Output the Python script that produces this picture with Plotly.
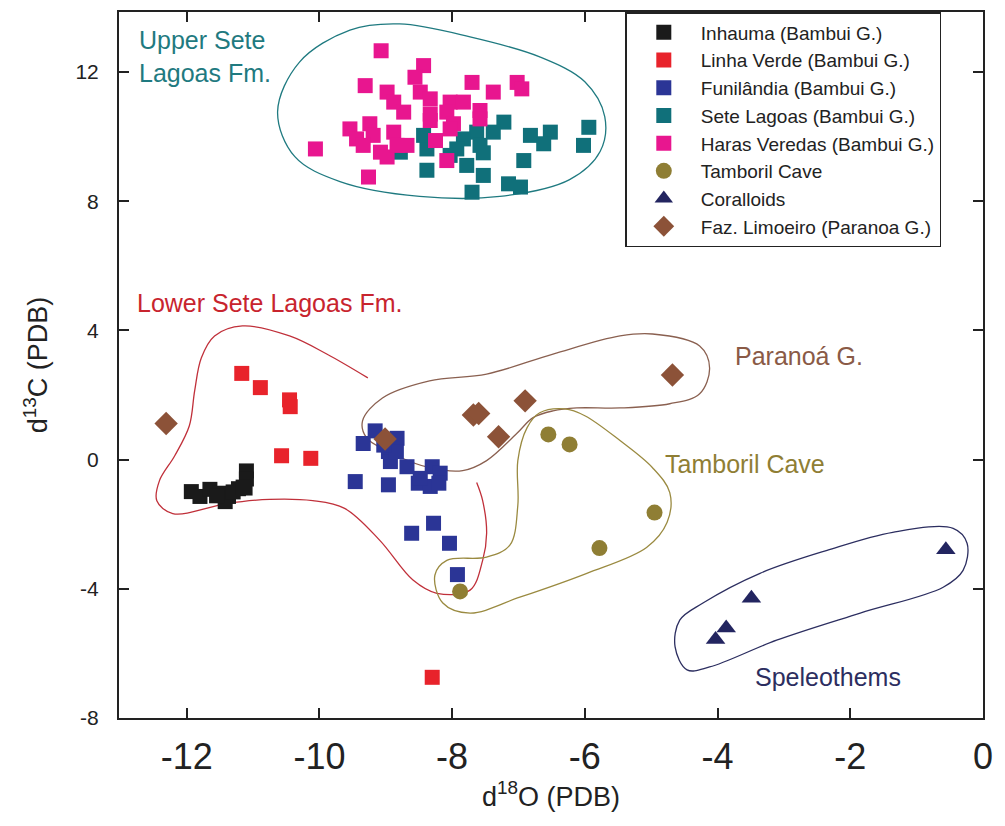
import plotly.graph_objects as go

# ---------------- data (d18O, d13C) ----------------
inhauma_x = [-11.93, -11.8, -11.65, -11.5, -11.37, -11.42, -11.22, -11.12, -11.1, -11.1, -11.55, -11.3, -11.15]
inhauma_y = [-0.99, -1.14, -0.92, -1.04, -1.14, -1.3, -0.9, -0.88, -0.35, -0.6, -1.12, -1.0, -0.85]

linha_x = [-11.17, -10.89, -10.45, -10.44, -10.57, -10.13, -8.3]
linha_y = [2.67, 2.23, 1.85, 1.64, 0.12, 0.04, -6.74]

funil_x = [-9.16, -9.34, -8.83, -8.96, -8.93, -8.68, -8.3, -8.18, -8.51, -8.33, -8.2, -9.46, -8.96,
           -8.61, -8.28, -8.04, -7.92, -8.48, -8.84, -9.03]
funil_y = [0.89, 0.5, 0.66, 0.25, -0.06, -0.22, -0.22, -0.42, -0.73, -0.83, -0.73, -0.68, -0.78,
           -2.28, -1.97, -2.59, -3.56, -0.58, 0.25, 0.45]

sete_x = [-7.22, -7.38, -7.63, -7.83, -7.58, -7.93, -8.38, -8.43, -8.38, -7.78, -7.53, -7.7,
          -6.82, -6.52, -6.62, -6.92, -7.15, -6.97, -5.94, -6.02, -8.03, -8.78, -7.53]
sete_y = [10.45, 10.14, 10.14, 9.93, 9.73, 9.62, 9.62, 10.04, 8.96, 9.11, 8.8, 8.28,
          10.04, 10.14, 9.78, 9.26, 8.54, 8.44, 10.29, 9.73, 9.42, 9.52, 9.5]

haras_x = [-9.07, -9.31, -8.43, -8.56, -8.98, -7.70, -7.38, -7.02, -6.95, -8.88, -8.48, -8.33,
           -8.03, -7.83, -8.73, -8.33, -8.08, -7.58, -7.58, -7.98, -9.54, -9.24, -9.44, -9.19,
           -9.34, -9.08, -8.98, -8.88, -8.83, -8.68, -10.06, -9.26, -8.25, -8.08, -8.03, -8.33]
haras_y = [12.66, 11.58, 12.2, 11.84, 11.38, 11.68, 11.38, 11.68, 11.48, 11.07, 11.38, 11.17,
           11.07, 11.07, 10.76, 10.7, 10.76, 10.81, 10.55, 10.4, 10.24, 10.4, 9.93, 10.04,
           9.73, 9.52, 9.37, 10.14, 9.73, 9.73, 9.62, 8.75, 9.88, 9.26, 10.24, 10.5]

tamboril_x = [-6.55, -6.23, -4.95, -5.78, -7.88]
tamboril_y = [0.78, 0.47, -1.64, -2.74, -4.08]

coral_x = [-0.56, -3.49, -3.87, -4.03]
coral_y = [-2.79, -4.29, -5.21, -5.57]

faz_x = [-12.31, -9.01, -7.68, -7.6, -7.3, -6.9, -4.68]
faz_y = [1.12, 0.64, 1.38, 1.43, 0.71, 1.82, 2.62]

# ---------------- field outlines ----------------
upper_x = [-10.63, -10.30, -9.54, -8.79, -7.73, -6.68, -6.00, -5.70, -5.77, -6.23, -7.28, -8.49, -9.69, -10.37]
upper_y = [10.77, 12.31, 13.30, 13.49, 13.09, 12.47, 11.70, 10.62, 9.54, 8.67, 8.15, 8.15, 8.61, 9.38]

lower_x = [-9.27, -9.89, -10.45, -11.16, -11.58, -11.78, -11.88, -11.96, -12.18, -12.41, -12.45, -12.21,
           -11.40, -10.75, -10.10, -9.62, -9.09, -8.59, -8.23, -7.73, -7.54, -7.48, -7.54, -7.63]
lower_y = [2.53, 3.27, 3.83, 4.14, 3.83, 3.15, 2.13, 1.05, 0.12, -0.65, -1.27, -1.67,
           -1.36, -1.23, -1.27, -1.51, -2.50, -3.73, -4.14, -4.04, -3.12, -2.28, -1.27, -0.71]

paranoa_x = [-9.35, -9.29, -8.83, -8.34, -7.84, -7.48, -7.03, -6.78, -6.48, -6.12, -5.47, -4.72, -4.27,
             -4.12, -4.27, -4.98, -5.47, -6.48, -7.48, -8.34, -9.05]
paranoa_y = [1.20, 0.68, 0.12, -0.25, -0.34, -0.03, 0.80, 1.30, 1.51, 1.60, 1.60, 1.73, 2.04,
             2.84, 3.52, 3.89, 3.83, 3.27, 2.65, 2.44, 1.91]

tamb_out_x = [-6.87, -6.68, -6.30, -6.00, -5.47, -4.98, -4.72, -4.76, -5.07, -5.97, -6.98, -7.73,
              -8.14, -8.26, -8.08, -7.48, -7.13, -7.01, -7.01]
tamb_out_y = [0.99, 1.45, 1.57, 1.36, 0.59, -0.25, -1.02, -1.94, -2.72, -3.52, -4.26, -4.75,
              -4.44, -3.58, -3.12, -3.02, -2.65, -1.42, -0.03]

speleo_x = [-4.57, -4.22, -3.36, -2.35, -1.36, -0.45, -0.24, -0.30, -0.60, -1.85, -3.11, -4.12, -4.46, -4.64]
speleo_y = [-4.97, -4.44, -3.52, -2.81, -2.25, -2.13, -2.59, -3.43, -3.95, -4.75, -5.59, -6.42, -6.51, -5.80]

x_ticks = [-12, -10, -8, -6, -4, -2, 0]
y_ticks = [-8, -4, 0, 4, 8, 12]

FONT = "Liberation Sans, Arial, sans-serif"

fig = go.Figure()


def outline(xs, ys, color, closed=True):
    if closed:
        xs = list(xs) + [xs[0]]
        ys = list(ys) + [ys[0]]
    fig.add_trace(go.Scatter(x=xs, y=ys, mode="lines", showlegend=False, hoverinfo="skip",
                             line=dict(color=color, width=1.3, shape="spline", smoothing=1.0)))


outline(upper_x, upper_y, "#1f7a80")
outline(lower_x, lower_y, "#c0303a", closed=False)
outline(paranoa_x, paranoa_y, "#8a6050")
outline(tamb_out_x, tamb_out_y, "#9a8a40")
outline(speleo_x, speleo_y, "#2c2e60")

series = [
    ("Inhauma (Bambui G.)", inhauma_x, inhauma_y, "square", "#1a1a1a", 15),
    ("Linha Verde (Bambui G.)", linha_x, linha_y, "square", "#e8232b", 15),
    ("Funilândia (Bambui G.)", funil_x, funil_y, "square", "#2b3596", 15),
    ("Sete Lagoas (Bambui G.)", sete_x, sete_y, "square", "#10707a", 15),
    ("Haras Veredas (Bambui G.)", haras_x, haras_y, "square", "#e8168f", 15),
    ("Tamboril Cave", tamboril_x, tamboril_y, "circle", "#8f7e34", 16),
    ("Coralloids", coral_x, coral_y, "triangle-up", "#232560", 17),
    ("Faz. Limoeiro (Paranoa G.)", faz_x, faz_y, "diamond", "#8c5238", 18),
]

for name, xs, ys, sym, col, sz in series:
    fig.add_trace(go.Scatter(x=xs, y=ys, mode="markers", name=name,
                             marker=dict(symbol=sym, color=col, size=sz, line=dict(width=0))))

ann_font = 25
annotations = [
    dict(x=-12.75, y=12.47, text="Upper Sete<br>Lagoas Fm.", color="#1f7a80"),
    dict(x=-12.78, y=4.85, text="Lower Sete Lagoas Fm.", color="#c8242e"),
    dict(x=-3.77, y=3.21, text="Paranoá G.", color="#8a5a46"),
    dict(x=-4.82, y=-0.12, text="Tamboril Cave", color="#8f7e34"),
    dict(x=-3.47, y=-6.73, text="Speleothems", color="#2c2e60"),
]
for a in annotations:
    fig.add_annotation(x=a["x"], y=a["y"], text=a["text"], showarrow=False, xanchor="left",
                       yanchor="middle", align="left",
                       font=dict(family=FONT, size=ann_font, color=a["color"]))

fig.update_layout(
    width=1005, height=826,
    margin=dict(l=119, r=22, t=10, b=108),
    paper_bgcolor="white", plot_bgcolor="white",
    font=dict(family=FONT, color="#222"),
    legend=dict(x=0.586, y=1.0, xanchor="left", yanchor="top",
                bgcolor="white", bordercolor="#222", borderwidth=1.5,
                font=dict(family=FONT, size=19, color="#222"),
                itemwidth=64),
    xaxis=dict(range=[-13.02, 0], tickvals=x_ticks, ticktext=[str(v) for v in x_ticks],
               showgrid=False, zeroline=False, showline=True, linecolor="#222", linewidth=2,
               mirror="ticks", ticks="inside", ticklen=10, tickwidth=1.5, tickcolor="#222",
               tickfont=dict(family=FONT, size=36, color="#222"), ticklabelstandoff=6,
               title=dict(text="d<sup>18</sup>O (PDB)", font=dict(family=FONT, size=27, color="#222"),
                          standoff=10)),
    yaxis=dict(range=[-8, 13.86], tickvals=y_ticks, ticktext=[str(v) for v in y_ticks],
               showgrid=False, zeroline=False, showline=True, linecolor="#222", linewidth=2,
               mirror="ticks", ticks="inside", ticklen=10, tickwidth=1.5, tickcolor="#222",
               tickfont=dict(family=FONT, size=21, color="#222"), ticklabelstandoff=14,
               title=dict(text="d<sup>13</sup>C (PDB)", font=dict(family=FONT, size=27, color="#222"),
                          standoff=20)),
)

fig.write_html("out.html")
